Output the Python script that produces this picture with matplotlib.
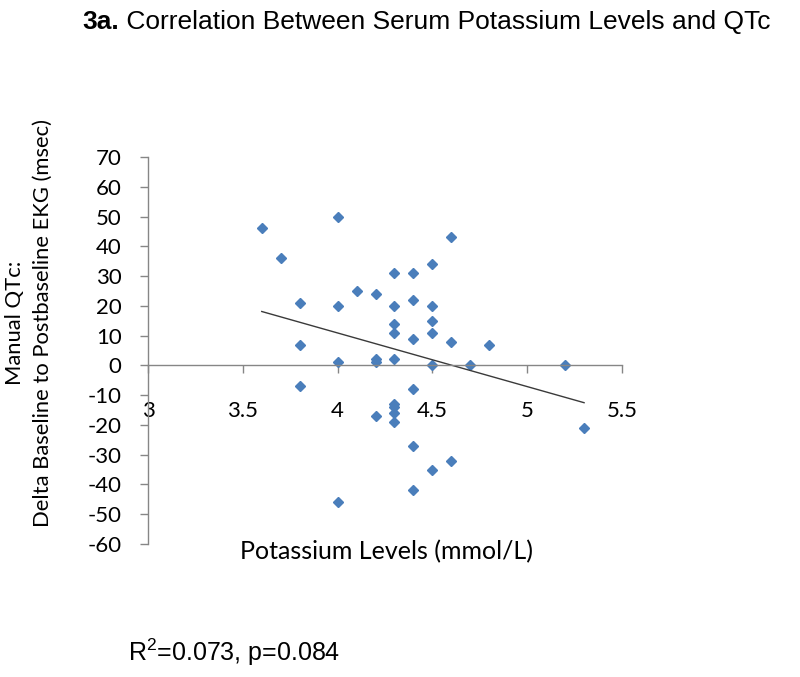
import numpy as np
import matplotlib
matplotlib.use('Agg')
import matplotlib.pyplot as plt

plt.rcParams['axes.unicode_minus'] = False

# potassium (mmol/L) vs delta QTc (msec)
potassium = [3.6, 3.7, 3.8, 3.8, 3.8, 4.0, 4.0, 4.0, 4.0, 4.1, 4.2, 4.2, 4.2, 4.2,
             4.3, 4.3, 4.3, 4.3, 4.3, 4.3, 4.3, 4.3, 4.3,
             4.4, 4.4, 4.4, 4.4, 4.4, 4.4,
             4.5, 4.5, 4.5, 4.5, 4.5, 4.5,
             4.6, 4.6, 4.6, 4.7, 4.8, 5.2, 5.3]
delta_qtc = [46, 36, 21, 7, -7, 50, 20, 1, -46, 25, 24, 2, 1, -17,
             31, 20, 14, 11, 2, -13, -14, -16, -19,
             31, 22, 9, -8, -27, -42,
             34, 20, 15, 11, 0, -35,
             43, 8, -32, 0, 7, 0, -21]

xticks = [3, 3.5, 4, 4.5, 5, 5.5]
xticklabels = ['3', '3.5', '4', '4.5', '5', '5.5']
yticks = list(range(-60, 80, 10))

title_bold = '3a.'
title_rest = ' Correlation Between Serum Potassium Levels and QTc'
stats_text = r'R$^\mathregular{2}$=0.073, p=0.084'

fig = plt.figure(figsize=(8, 6.77), dpi=100)
ax = fig.add_axes([0.185, 0.1965, 0.5925, 0.5716])

axis_gray = '#868686'
tick_font = 'Lato'

ax.plot(potassium, delta_qtc, linestyle='none', marker='D', ms=4.8,
        color='#4A7EBB', mec='#4A7EBB')

# linear trend line over the data range
k, b = np.polyfit(potassium, delta_qtc, 1)
xs = np.array([min(potassium), max(potassium)])
ax.plot(xs, k * xs + b, color='#3a3a3a', lw=1.0)

ax.set_xlim(3, 5.5)
ax.set_ylim(-60, 70)
ax.set_xticks(xticks)
ax.set_xticklabels(xticklabels)
ax.set_yticks(yticks)

for s in ['top', 'right']:
    ax.spines[s].set_visible(False)
ax.spines['bottom'].set_position(('data', 0))
ax.spines['bottom'].set_color(axis_gray)
ax.spines['left'].set_color(axis_gray)
ax.spines['bottom'].set_linewidth(1.0)
ax.spines['left'].set_linewidth(1.0)

ax.tick_params(axis='x', direction='out', length=6, width=1.0, color=axis_gray, pad=20)
ax.tick_params(axis='y', direction='out', length=6, width=1.0, color=axis_gray, pad=13)
for lab in ax.get_xticklabels() + ax.get_yticklabels():
    lab.set_fontfamily(tick_font)
    lab.set_fontsize(16)

fig.text(387 / 800, 1 - 552 / 677, 'Potassium Levels (mmol/L)', ha='center', va='center',
         fontfamily=tick_font, fontsize=18)
fig.text(29 / 800, 1 - 323 / 677, 'Manual QTc:\nDelta Baseline to Postbaseline EKG (msec)',
         rotation=90, ha='center', va='center', multialignment='center',
         fontfamily=tick_font, fontsize=15.8, linespacing=1.5)

t1 = fig.text(82 / 800, 1 - 22 / 677, title_bold, ha='left', va='center',
              fontfamily='Liberation Sans', fontweight='bold', fontsize=19)
fig.canvas.draw()
bb = t1.get_window_extent()
fig.text(bb.x1 / 800, 1 - 22 / 677, title_rest, ha='left', va='center',
         fontfamily='Liberation Sans', fontsize=19)

fig.text(128 / 800, 1 - 652 / 677, stats_text, ha='left', va='center',
         fontfamily='Liberation Sans', fontsize=18)

fig.savefig('out.png', dpi=100)
